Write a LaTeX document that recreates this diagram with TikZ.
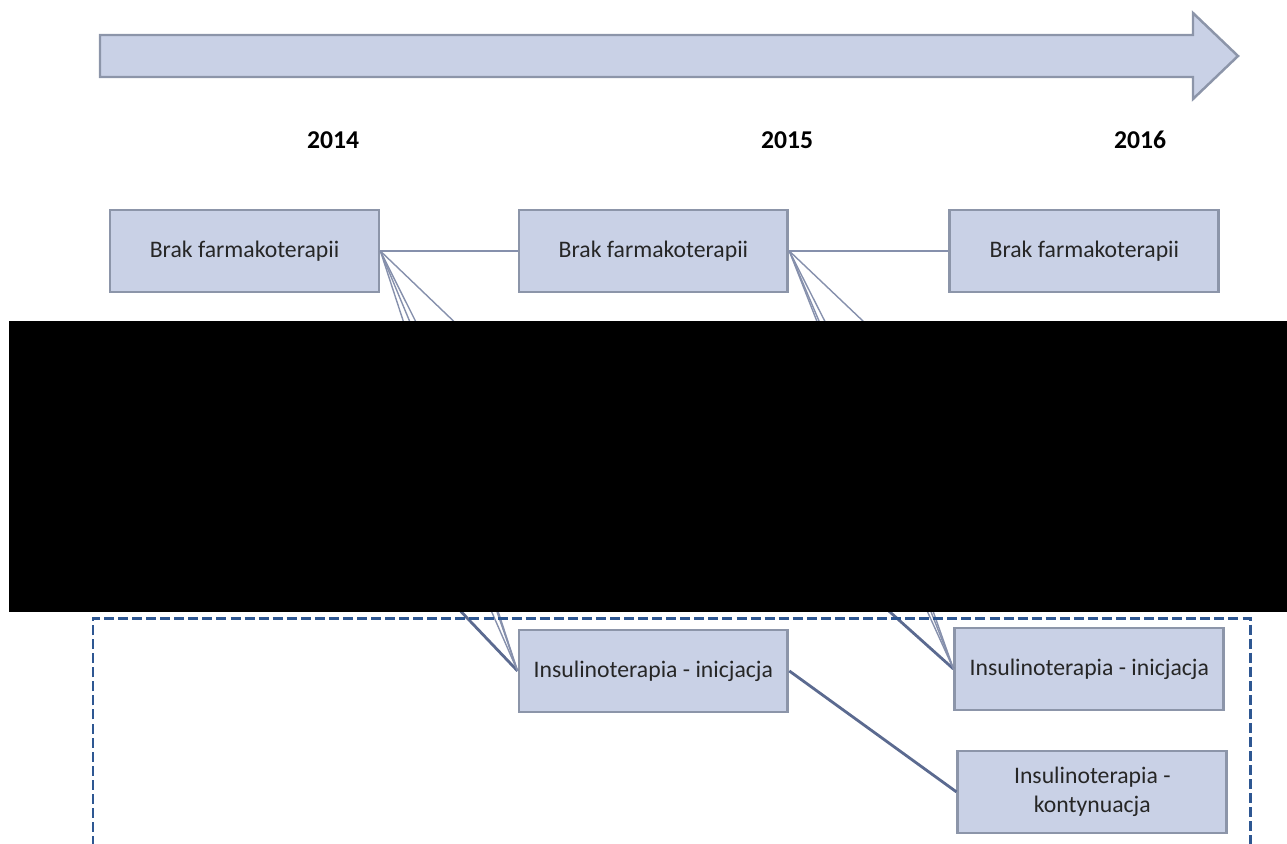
\documentclass[tikz,border=0pt]{standalone}
\usepackage{fontspec}
\setmainfont{Carlito}
\usetikzlibrary{positioning}
\definecolor{boxfill}{HTML}{C9D1E6}
\definecolor{boxline}{HTML}{8C95A9}
\definecolor{thinlink}{HTML}{8690AC}
\definecolor{thicklink}{HTML}{5B6A90}
\definecolor{frameblue}{HTML}{2E5792}
\definecolor{txt}{HTML}{262626}
\tikzstyle{stage} = [rectangle, draw=boxline, line width=1.6pt, fill=boxfill, minimum width=5.38cm, minimum height=1.64cm, align=center, text=txt, font=\fontsize{13.5}{16.5}\selectfont]
\tikzstyle{year} = [font=\fontsize{14.6}{17}\selectfont\bfseries, text=black]
\tikzstyle{thin link} = [draw=thinlink, line width=0.8pt]
\tikzstyle{thick link} = [draw=thicklink, line width=1.6pt]

\begin{document}
\begin{tikzpicture}[x=0.02cm, y=-0.02cm, node distance=0.5cm]
\useasboundingbox (0,0) rectangle (1287,843);

% time axis
\path [fill=boxfill, draw=boxline, line width=1.4pt] (100,35) -- (1193,35) -- (1193,13) -- (1238,56) -- (1193,99) -- (1193,77) -- (100,77) -- cycle;

\node (y2014) [year] at (333,140) {2014};
\node (y2015) [year] at (787,140) {2015};
\node (y2016) [year] at (1140,140) {2016};

\node (box1) [stage] at (244.5,251) {Brak farmakoterapii};
\node (box2) [stage, right of=box1, node distance=8.18cm] {Brak farmakoterapii};
\node (box3) [stage, right of=box2, node distance=8.62cm] {Brak farmakoterapii};

\node (box4) [stage, below of=box2, node distance=8.4cm] {Insulinoterapia - inicjacja};
\node (box5) [stage, right of=box4, node distance=8.72cm, yshift=0.04cm] {Insulinoterapia - inicjacja};
\node (box6) [stage, below of=box5, node distance=2.46cm, xshift=0.06cm] {Insulinoterapia -\\kontynuacja};

% ends hidden under the covered part
\coordinate (hid1) at (484,500);
\coordinate (hid2) at (480,450);
\coordinate (hid3) at (515,380);
\coordinate (hid4) at (412,560);
\coordinate (hid5) at (469,560);
\coordinate (hid6) at (479,560);
\coordinate (hid7) at (895,500);
\coordinate (hid8) at (890,450);
\coordinate (hid9) at (925,380);
\coordinate (hid10) at (832,560);
\coordinate (hid11) at (904,560);
\coordinate (hid12) at (915,560);

\path [thin link] (box1.east) -- (box2.west);
\path [thin link] (box2.east) -- (box3.west);

\path [thin link] (box1.east) -- (box4.west);
\path [thin link] (box1.east) -- (hid1);
\path [thin link] (box1.east) -- (hid2);
\path [thin link] (box1.east) -- (hid3);
\path [thick link] (hid4) -- (box4.west);
\path [thin link] (hid5) -- (box4.west);
\path [thin link] (hid6) -- (box4.west);

\path [thin link] (box2.east) -- (box5.west);
\path [thin link] (box2.east) -- (hid7);
\path [thin link] (box2.east) -- (hid8);
\path [thin link] (box2.east) -- (hid9);
\path [thick link] (hid10) -- (box5.west);
\path [thin link] (hid11) -- (box5.west);
\path [thin link] (hid12) -- (box5.west);

\path [thick link] (box4.east) -- (box6.west);

% covered part
\fill [black] (9,321) rectangle (1287,612);

\draw [frameblue, line width=1.7pt, dash pattern=on 5.7pt off 2.3pt] (93,860) -- (93,618) -- (1250,618) -- (1250,860);

\end{tikzpicture}
\end{document}
